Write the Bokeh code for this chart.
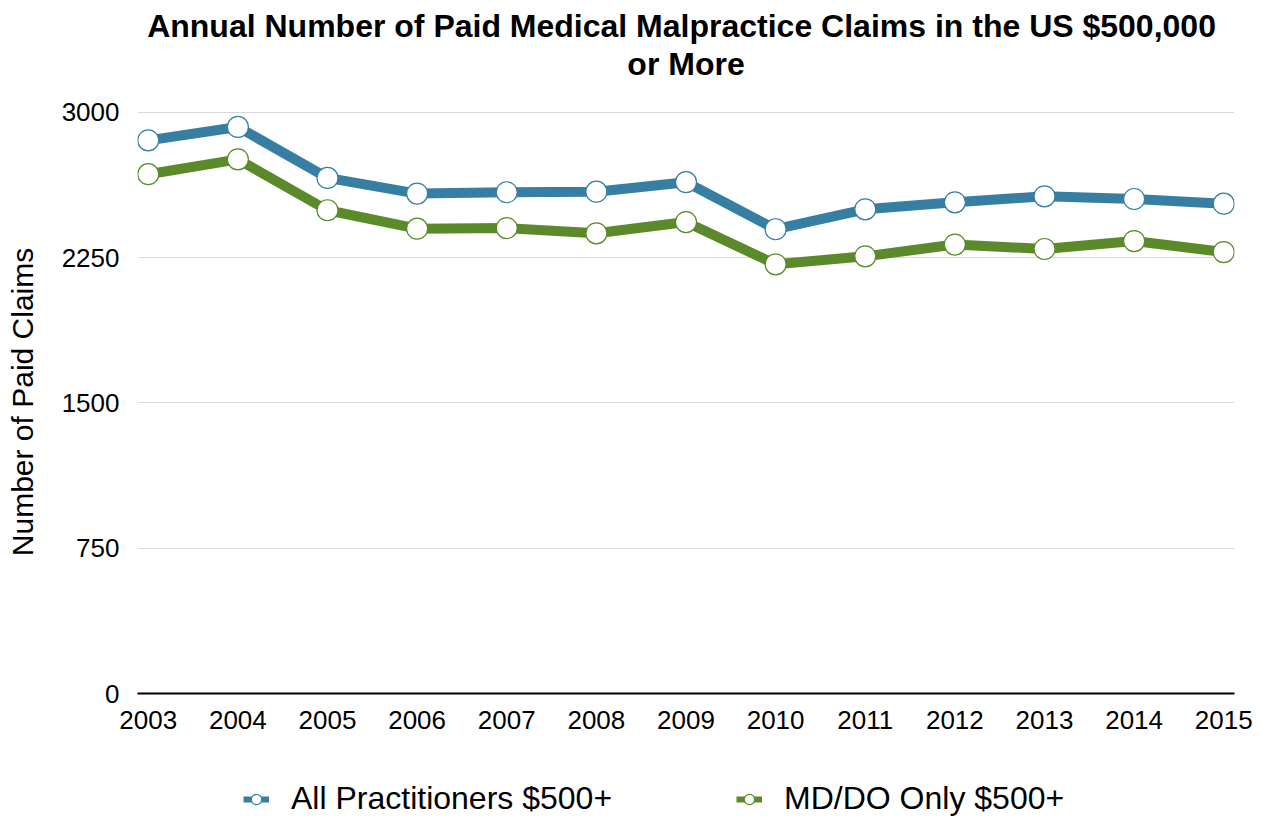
from bokeh.plotting import figure
from bokeh.models import ColumnDataSource, FixedTicker, Legend, LegendItem, Range1d, Title
from bokeh.layouts import column
from bokeh.embed import file_html
from bokeh.resources import INLINE

years = [2003, 2004, 2005, 2006, 2007, 2008, 2009, 2010, 2011, 2012, 2013, 2014, 2015]
all_practitioners = [2856, 2925, 2662, 2581, 2588, 2591, 2640, 2397, 2500, 2536, 2567, 2553, 2529]
md_do_only = [2681, 2758, 2495, 2400, 2403, 2376, 2434, 2216, 2257, 2318, 2295, 2336, 2279]
y_ticks = [0, 750, 1500, 2250, 3000]
series_names = ["All Practitioners $500+", "MD/DO Only $500+"]
series_colors = ["#367fa3", "#5a8a29"]
title_line1 = "Annual Number of Paid Medical Malpractice Claims in the US  $500,000"
title_line2 = "or More"
y_label = "Number of Paid Claims"

FONT = "Liberation Sans"
W = 1266
H_MAIN = 760
H_LEG = 58

p = figure(width=W, height=H_MAIN, output_backend="svg", toolbar_location=None,
           x_range=Range1d(2002.88, 2015.12), y_range=Range1d(0, 3010),
           min_border_left=137, min_border_right=32, min_border_top=110,
           min_border_bottom=H_MAIN - 693)
p.outline_line_color = None
p.background_fill_color = "white"
p.border_fill_color = "white"

# p.title is the outermost line; added titles stack outward from the plot
p.title.text = title_line1
p.title.text_font = FONT
p.title.text_font_size = "32px"
p.title.text_font_style = "bold"
p.title.text_color = "black"
p.title.align = "center"
p.title.standoff = 0

spacer = Title(text=" ", text_font=FONT, text_font_size="1px", standoff=26)
p.add_layout(spacer, "above")
t2 = Title(text=title_line2, text_font=FONT, text_font_size="32px",
           text_font_style="bold", text_color="black", align="center", standoff=0)
p.add_layout(t2, "above")

p.xgrid.grid_line_color = None
p.ygrid.grid_line_color = "#d9d9d9"
p.ygrid.grid_line_width = 1
p.ygrid.ticker = FixedTicker(ticks=y_ticks)

p.xaxis.ticker = FixedTicker(ticks=years)
p.xaxis.axis_line_color = "black"
p.xaxis.axis_line_width = 2
p.xaxis.major_tick_line_color = None
p.xaxis.minor_tick_line_color = None
p.xaxis.major_tick_out = 0
p.xaxis.major_tick_in = 0
p.xaxis.major_label_standoff = 17
p.xaxis.major_label_text_font = FONT
p.xaxis.major_label_text_font_size = "26px"
p.xaxis.major_label_text_color = "black"

p.yaxis.ticker = FixedTicker(ticks=y_ticks)
p.yaxis.axis_line_color = None
p.yaxis.major_tick_line_color = None
p.yaxis.minor_tick_line_color = None
p.yaxis.major_tick_out = 0
p.yaxis.major_tick_in = 0
p.yaxis.major_label_standoff = 18
p.yaxis.major_label_text_font = FONT
p.yaxis.major_label_text_font_size = "26px"
p.yaxis.major_label_text_color = "black"
p.yaxis.axis_label = y_label
p.yaxis.axis_label_text_font = FONT
p.yaxis.axis_label_text_font_size = "30px"
p.yaxis.axis_label_text_font_style = "normal"
p.yaxis.axis_label_text_color = "black"
p.yaxis.axis_label_standoff = 20

series = [all_practitioners, md_do_only]
for vals, color in zip(series, series_colors):
    src = ColumnDataSource(dict(x=years, y=vals))
    p.line("x", "y", source=src, line_color=color, line_width=10, line_join="round")
    p.scatter("x", "y", source=src, size=21, marker="circle", fill_color="white",
              line_color=color, line_width=1.2)

# legend strip below the chart (its own glyphs fall outside its empty frame)
p2 = figure(width=W, height=H_LEG, output_backend="svg", toolbar_location=None,
            x_axis_type=None, y_axis_type=None, x_range=Range1d(0, 1), y_range=Range1d(0, 1),
            min_border_left=0, min_border_right=0, min_border_top=0, min_border_bottom=0)
p2.outline_line_color = None
p2.xgrid.grid_line_color = None
p2.ygrid.grid_line_color = None
p2.background_fill_color = "white"
p2.border_fill_color = "white"

items = []
for vals, name, color in zip(series, series_names, series_colors):
    src2 = ColumnDataSource(dict(x=years, y=vals))
    ln = p2.line("x", "y", source=src2, line_color=color, line_width=6)
    sc = p2.scatter("x", "y", source=src2, size=15, marker="circle", fill_color="white",
                    line_color=color, line_width=1.2)
    items.append(LegendItem(label=name, renderers=[ln, sc]))

legend = Legend(items=items, orientation="horizontal", location=(106, 1),
                label_text_font=FONT, label_text_font_size="32px",
                label_text_color="black", glyph_width=26, glyph_height=30,
                label_standoff=22, spacing=124, padding=0, margin=0,
                border_line_alpha=0, background_fill_alpha=0)
p2.add_layout(legend, "center")

layout = column(p, p2, spacing=0)
open("out.html", "w").write(file_html(layout, INLINE))
